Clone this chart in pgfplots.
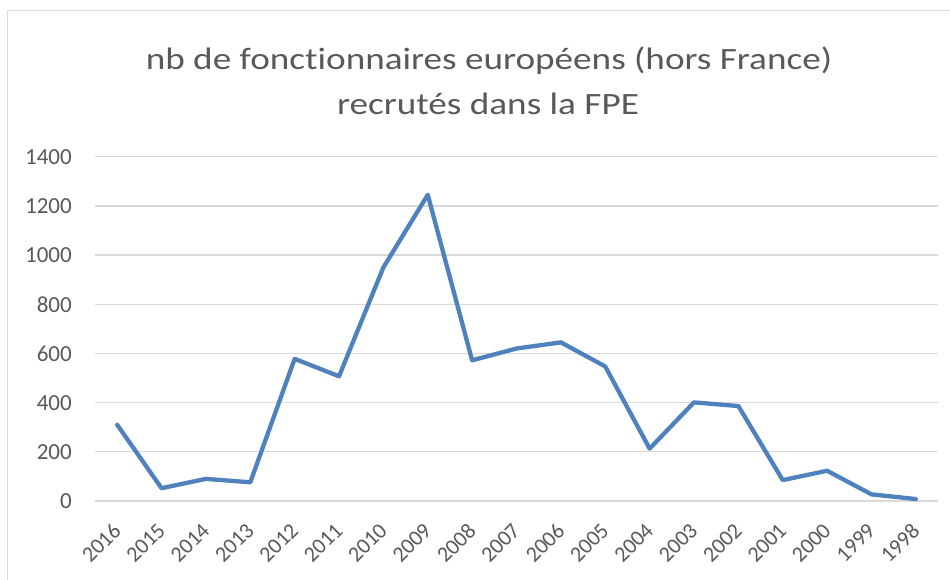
\documentclass[border=0pt]{standalone}
\usepackage{fontspec}
\setmainfont{Carlito}[Ligatures=NoCommon]
\newfontfamily\titlefont{Carlito}[FakeStretch=1.2, Ligatures=NoCommon]
\usepackage{pgfplots}
\pgfplotsset{compat=1.18}
\definecolor{txtgray}{HTML}{595959}
\definecolor{gridgray}{HTML}{D9D9D9}
\definecolor{lineblue}{HTML}{4F81BD}
\begin{document}
\begin{tikzpicture}[x=1bp,y=1bp]
\path[use as bounding box] (0,0) rectangle (950,580);
\draw[gridgray, line width=1bp] (7,0) -- (7,569) -- (950,569);
\node[anchor=base, text=txtgray, font=\titlefont\fontsize{31bp}{31bp}\selectfont, inner sep=0pt] at (489,510) {nb de fonctionnaires européens (hors France)};
\node[anchor=base, text=txtgray, font=\titlefont\fontsize{31bp}{31bp}\selectfont, inner sep=0pt] at (488,465) {recrutés dans la FPE};
\begin{axis}[
  at={(95bp,79bp)}, anchor=south west,
  scale only axis, width=843bp, height=344.3bp,
  xmin=-0.5, xmax=18.5, ymin=0, ymax=1400,
  axis line style={draw=none},
  major tick length=0pt,
  ymajorgrids, ytick distance=200,
  grid style={gridgray, line width=1.3bp},
  xtick={0,...,18},
  xticklabels={2016,2015,2014,2013,2012,2011,2010,2009,2008,2007,2006,2005,2004,2003,2002,2001,2000,1999,1998},
  /pgf/number format/assume math mode=true,
  /pgf/number format/1000 sep={},
  yticklabel style={font=\fontsize{23bp}{23bp}\selectfont, text=txtgray, anchor=east, inner sep=0pt, xshift=-23bp},
  xticklabel style={font=\fontsize{22bp}{22bp}\selectfont, text=txtgray, yshift=-26bp, rotate=45, anchor=east, inner sep=0pt},
  clip=false,
]
\addplot[lineblue, line width=4.3bp, line join=round, line cap=round] coordinates {
(0,310) (1,52) (2,90) (3,76) (4,578) (5,507) (6,950) (7,1245) (8,572) (9,620)
(10,645) (11,547) (12,213) (13,401) (14,386) (15,85) (16,123) (17,27) (18,8)
};
\end{axis}
\end{tikzpicture}
\end{document}
